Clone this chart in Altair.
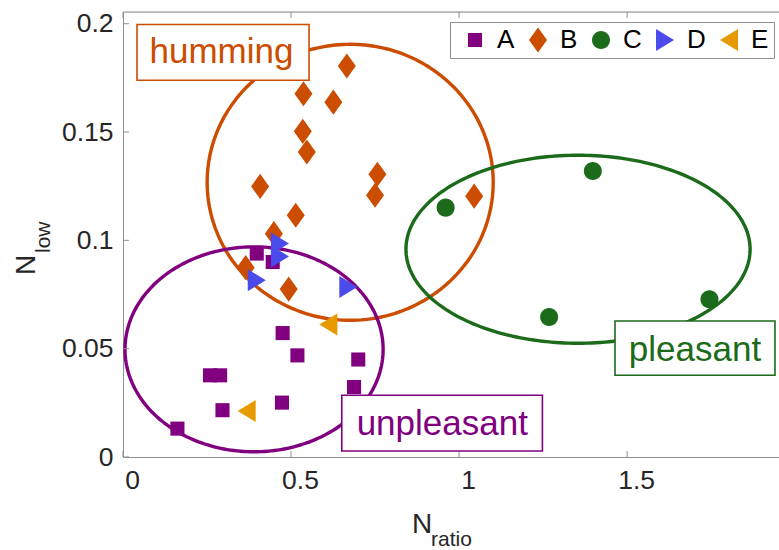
import altair as alt
import numpy as np
import pandas as pd

# ---------------- data ----------------
groups = ["A", "B", "C", "D", "E"]
group_colors = ["#800080", "#CC4C00", "#1B6B1B", "#4B4BEB", "#E69A00"]
group_shapes = [
    "M-0.64,-0.64L0.64,-0.64L0.64,0.64L-0.64,0.64Z",
    "M0,-1.14L0.82,0L0,1.14L-0.82,0Z",
    "M-0.82,0A0.82,0.82,0,1,1,0.82,0A0.82,0.82,0,1,1,-0.82,0Z",
    "M-0.82,-1L0.82,0L-0.82,1Z",
    "M0.82,-1L-0.82,0L0.82,1Z",
]

A_x = [0.398, 0.4455, 0.475, 0.519, 0.700, 0.6875, 0.259, 0.289, 0.296, 0.473, 0.162]
A_y = [0.0939, 0.0900, 0.0572, 0.0469, 0.0450, 0.0323, 0.0377, 0.0377, 0.0216, 0.0251, 0.0131]
B_x = [0.666, 0.537, 0.626, 0.535, 0.547, 0.408, 0.757, 0.750, 1.045, 0.514, 0.449, 0.365, 0.493]
B_y = [0.1805, 0.1677, 0.1638, 0.1503, 0.1408, 0.1249, 0.1305, 0.1208, 0.1204, 0.1116, 0.1031, 0.0874, 0.0775]
C_x = [0.960, 1.398, 1.268, 1.745]
C_y = [0.1151, 0.1320, 0.0646, 0.0728]
D_x = [0.467, 0.467, 0.398, 0.6705]
D_y = [0.0985, 0.0926, 0.0816, 0.0785]
E_x = [0.611, 0.368]
E_y = [0.0612, 0.0212]

# cluster ellipses (centre, radii) and their labelled boxes
ell_name = ["humming", "unpleasant", "pleasant"]
ell_color = ["#CC4C00", "#800080", "#1B6B1B"]
ell_cx = [0.676, 0.390, 1.354]
ell_cy = [0.1268, 0.0497, 0.0959]
ell_rx = [0.4256, 0.384, 0.512]
ell_ry = [0.0637, 0.0473, 0.0434]
box_x1 = [0.0417, 0.651, 1.464]
box_x2 = [0.5536, 1.248, 1.940]
box_y1 = [0.1996, 0.0285, 0.0628]
box_y2 = [0.1739, 0.0028, 0.0377]
lab_x = [0.293, 0.950, 1.702]
lab_y = [0.1819, 0.0100, 0.0443]

x_ticks = [0, 0.5, 1, 1.5]
y_ticks = [0, 0.05, 0.1, 0.15, 0.2]
X_MAX = 1.952
Y_MAX = 0.2054

# ---------------- tables ----------------
pts = pd.concat([
    pd.DataFrame({"x": xs, "y": ys, "group": g})
    for g, xs, ys in zip(groups, [A_x, B_x, C_x, D_x, E_x], [A_y, B_y, C_y, D_y, E_y])
], ignore_index=True)

t = np.linspace(0, 2 * np.pi, 241)
ell = pd.concat([
    pd.DataFrame({"x": cx + rx * np.cos(t), "y": cy + ry * np.sin(t),
                  "i": np.arange(len(t)), "name": n, "col": c})
    for n, c, cx, cy, rx, ry in zip(ell_name, ell_color, ell_cx, ell_cy, ell_rx, ell_ry)
], ignore_index=True)

boxes = pd.DataFrame({"name": ell_name, "col": ell_color, "x1": box_x1, "x2": box_x2,
                      "y1": box_y1, "y2": box_y2, "lx": lab_x, "ly": lab_y})

W, H = 656, 445
FONT = "Liberation Sans"
AX = "#8f8f8f"
TXT = "#262626"

xs = alt.Scale(domain=[0, X_MAX], nice=False, zero=False)
ys = alt.Scale(domain=[0, Y_MAX], nice=False, zero=False)

x_axis = alt.Axis(values=x_ticks, format="~g", title=None, grid=False, ticks=False,
                  labelPadding=10, labelOffset=9, labelFlush=False, labelFontSize=26.5,
                  labelFont=FONT, labelColor=TXT, domainColor=AX, domainWidth=1)
y_axis = alt.Axis(values=y_ticks, format="~g", title=None, grid=False, ticks=False,
                  labelPadding=10, labelFlush=False, labelFontSize=26.5, labelFont=FONT,
                  labelColor=TXT, domainColor=AX, domainWidth=1)

ellipses = alt.Chart(ell).mark_line(strokeWidth=3.4, clip=True).encode(
    x=alt.X("x:Q", scale=xs, axis=x_axis),
    y=alt.Y("y:Q", scale=ys, axis=y_axis),
    detail="name:N",
    order="i:Q",
    color=alt.Color("col:N", scale=None),
)

legend = alt.Legend(orient="none", legendX=327, legendY=10, direction="horizontal",
                    columns=5, title=None, labelFontSize=26, labelFont=FONT,
                    labelColor="black", symbolSize=484, labelOffset=9,
                    columnPadding=3, padding=5, strokeColor=AX, fillColor="white",
                    symbolStrokeWidth=0, symbolOffset=7)

points = alt.Chart(pts).mark_point(filled=True, size=484, opacity=1, strokeWidth=0).encode(
    x=alt.X("x:Q", scale=xs),
    y=alt.Y("y:Q", scale=ys),
    color=alt.Color("group:N", scale=alt.Scale(domain=groups, range=group_colors), legend=legend),
    shape=alt.Shape("group:N", scale=alt.Scale(domain=groups, range=group_shapes), legend=legend),
)

rects = alt.Chart(boxes).mark_rect(fill="white", strokeWidth=1.6).encode(
    x="x1:Q", x2="x2:Q", y="y1:Q", y2="y2:Q",
    stroke=alt.Stroke("col:N", scale=None),
)
labels = alt.Chart(boxes).mark_text(fontSize=35, font=FONT, align="center",
                                    baseline="alphabetic").encode(
    x="lx:Q", y="ly:Q", text="name:N",
    color=alt.Color("col:N", scale=None),
)

# frame and inward ticks
xt = pd.DataFrame({"v": x_ticks})
yt = pd.DataFrame({"v": y_ticks})
xtick_bot = alt.Chart(xt).mark_rule(color=AX).encode(
    x=alt.X("v:Q", scale=xs), y=alt.value(H), y2=alt.value(H - 6))
xtick_top = alt.Chart(xt).mark_rule(color=AX).encode(
    x=alt.X("v:Q", scale=xs), y=alt.value(0), y2=alt.value(6))
ytick = alt.Chart(yt).mark_rule(color=AX).encode(
    y=alt.Y("v:Q", scale=ys), x=alt.value(0), x2=alt.value(6))
top_frame = alt.Chart(pd.DataFrame({"a": [0]})).mark_rule(color=AX).encode(
    x=alt.value(0), x2=alt.value(W), y=alt.value(0))

# axis titles with subscripts
tdf = pd.DataFrame({"a": [0]})
xt_N = alt.Chart(tdf).mark_text(text="N", fontSize=28, font=FONT, color=TXT,
                                align="left", baseline="alphabetic").encode(
    x=alt.value(289), y=alt.value(521))
xt_sub = alt.Chart(tdf).mark_text(text="ratio", fontSize=21, font=FONT, color=TXT,
                                  align="left", baseline="alphabetic").encode(
    x=alt.value(308), y=alt.value(534))
yt_N = alt.Chart(tdf).mark_text(text="N", fontSize=28, font=FONT, color=TXT, angle=270,
                                align="left", baseline="alphabetic").encode(
    x=alt.value(-88), y=alt.value(263))
yt_sub = alt.Chart(tdf).mark_text(text="low", fontSize=21, font=FONT, color=TXT, angle=270,
                                  align="left", baseline="alphabetic").encode(
    x=alt.value(-73), y=alt.value(241))

chart = alt.layer(
    ellipses, xtick_bot, xtick_top, ytick, top_frame, points, rects, labels,
    xt_N, xt_sub, yt_N, yt_sub,
).properties(
    width=W, height=H,
    autosize=alt.AutoSizeParams(type="none"),
    padding={"left": 123, "top": 12, "right": 0, "bottom": 93},
).configure_view(stroke=None).configure(background="white")

chart.save("out.html", embed_options={"renderer": "svg", "actions": False})
